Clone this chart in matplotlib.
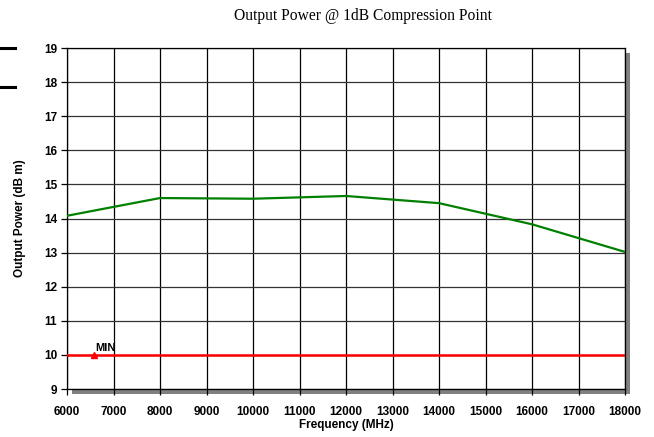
import matplotlib
matplotlib.use('Agg')
import matplotlib.pyplot as plt
from matplotlib.patches import Rectangle
from matplotlib.lines import Line2D

# measured data
freq = [6000, 8000, 10000, 12000, 14000, 16000, 18000]
power = [14.08, 14.6, 14.58, 14.66, 14.45, 13.83, 13.02]

min_freq = [6000, 18000]
min_power = [10, 10]
min_marker_x = 6580

xticks = list(range(6000, 18001, 1000))
yticks = list(range(9, 20))

W, H = 654, 437
fig = plt.figure(figsize=(W / 100, H / 100), dpi=100)
fig.patch.set_facecolor('white')

# axes box in pixels
left, right, top, bottom = 67, 625, 48, 389
ax = fig.add_axes([left / W, 1 - bottom / H, (right - left) / W, (bottom - top) / H])
ax.set_zorder(2)
ax.set_facecolor('white')

# drop shadow behind the plot area
off = 5
fig.patches.append(Rectangle(((left + off) / W, 1 - (bottom + off) / H),
                             (right - left) / W, (bottom - top) / H,
                             transform=fig.transFigure, facecolor='#808080',
                             edgecolor='none', zorder=0))

# the two stray dashes at the top left
for yp in [48, 87]:
    fig.add_artist(Line2D([0, 15 / W], [1 - yp / H, 1 - yp / H], color='black',
                          lw=2.2, transform=fig.transFigure))

ax.plot(freq, power, color='#008000', lw=1.6, zorder=4)
ax.plot(min_freq, min_power, color='#ff0000', lw=1.8, zorder=4)
ax.plot([min_marker_x], [10], marker='^', color='#ff0000', ms=4, zorder=5)
ax.text(min_marker_x + 20, 10.06, 'MIN', fontsize=8, fontweight='bold',
        family='Liberation Sans', va='bottom', ha='left', zorder=6)

ax.set_xlim(6000, 18000)
ax.set_ylim(9, 19)
ax.set_xticks(xticks)
ax.set_yticks(yticks)
ax.grid(axis='x', color='black', lw=0.9)
ax.grid(axis='y', color='#333333', lw=0.9)
ax.set_axisbelow(True)

for s in ax.spines.values():
    s.set_color('black')
    s.set_linewidth(0.9)

ax.tick_params(axis='both', direction='out', length=4, width=0.9, labelsize=8.5)
ax.tick_params(axis='x', pad=8)
ax.tick_params(axis='y', pad=3)
for lab in ax.get_xticklabels() + ax.get_yticklabels():
    lab.set_fontweight('bold')
    lab.set_family('Liberation Sans')

ax.set_xlabel('Frequency (MHz)', fontsize=8.5, fontweight='bold',
              family='Liberation Sans', labelpad=1)
ax.set_ylabel('Output Power (dB m)', fontsize=8.5, fontweight='bold',
              family='Liberation Sans', labelpad=13)

fig.text(363.5 / W, 1 - 16 / H,
         'Output Power @ 1dB Compression Point', ha='center', va='center',
         fontsize=11.2, family='Liberation Serif')

fig.savefig('out.png', dpi=100)
